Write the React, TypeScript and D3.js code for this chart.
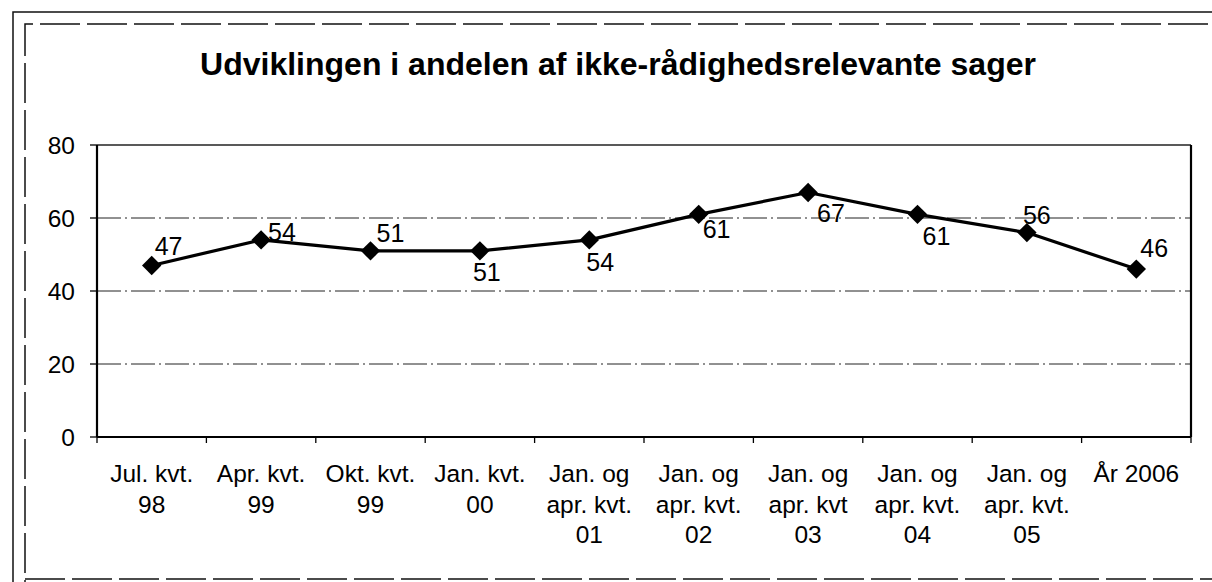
import React from "react";
import * as d3 from "d3";

// chart data
const title = "Udviklingen i andelen af ikke-rådighedsrelevante sager";
const categories = [
  ["Jul. kvt.", "98"],
  ["Apr. kvt.", "99"],
  ["Okt. kvt.", "99"],
  ["Jan. kvt.", "00"],
  ["Jan. og", "apr. kvt.", "01"],
  ["Jan. og", "apr. kvt.", "02"],
  ["Jan. og", "apr. kvt", "03"],
  ["Jan. og", "apr. kvt.", "04"],
  ["Jan. og", "apr. kvt.", "05"],
  ["År 2006"],
];
const values = [47, 54, 51, 51, 54, 61, 67, 61, 56, 46];
const yTicks = [0, 20, 40, 60, 80];

// where each value label sits relative to its point (as in the original)
const labelOffsets = [
  [3, -10], [7, 1], [6, -9], [-7, 30], [-3, 31],
  [4, 24], [9, 30], [5, 31], [-4, -9], [4, -12],
];

const W = 1212;
const H = 582;
const font = "'Liberation Sans', Arial, sans-serif";

export default function App() {
  const left = 97, right = 1191, top = 145, bottom = 437;

  const x = d3.scaleBand<number>()
    .domain(values.map((_, i) => i))
    .range([left, right]);
  const y = d3.scaleLinear().domain([0, 80]).range([bottom, top]);

  const cx = (i: number) => (x(i) as number) + x.bandwidth() / 2;

  const line = d3.line<number>()
    .x((_, i) => cx(i))
    .y((d) => y(d));

  const diamond = d3.symbol().type(d3.symbolDiamond2).size(240);

  const boundaries = d3.range(values.length + 1).map((i) => left + i * x.bandwidth());

  return (
    <svg width={W} height={H} style={{ position: "absolute", left: 0, top: 0, background: "#fff" }}>
      {/* frames */}
      <path d="M13,620 V12 H1240" fill="none" stroke="#111" strokeWidth={1.5} />
      <path d="M25,620 V24 H1240 M25,579 H1240" fill="none" stroke="#111"
        strokeWidth={1.5} strokeDasharray="40 7" />

      <text x={618} y={75} textAnchor="middle" fontFamily={font} fontWeight="bold"
        fontSize={32} fill="#000">{title}</text>

      {/* gridlines */}
      {yTicks.filter((t) => t > 0 && t < 80).map((t) => (
        <line key={t} x1={left} x2={right} y1={y(t)} y2={y(t)} stroke="#222"
          strokeWidth={1} strokeDasharray="24 4 2 4" />
      ))}
      <line x1={left} x2={right} y1={top} y2={top} stroke="#222" strokeWidth={1.4} />
      <line x1={right} x2={right} y1={top} y2={bottom} stroke="#000" strokeWidth={2.2} />

      {/* axes */}
      <line x1={left} x2={left} y1={top} y2={bottom} stroke="#000" strokeWidth={2.2} />
      <line x1={left} x2={right} y1={bottom} y2={bottom} stroke="#000" strokeWidth={2.2} />
      {yTicks.map((t) => (
        <g key={t}>
          <line x1={left - 7} x2={left} y1={y(t)} y2={y(t)} stroke="#000" strokeWidth={1.3} />
          <text x={left - 22} y={y(t) + 9} textAnchor="end" fontFamily={font} fontSize={24.5}
            fill="#000">{t}</text>
        </g>
      ))}
      {boundaries.map((b, i) => (
        <line key={i} x1={b} x2={b} y1={bottom} y2={bottom + 6} stroke="#000" strokeWidth={1.3} />
      ))}
      {categories.map((lines, i) => (
        <text key={i} x={cx(i)} y={482} textAnchor="middle" fontFamily={font} fontSize={24.5} fill="#000">
          {lines.map((s, j) => (
            <tspan key={j} x={cx(i)} y={482 + j * 30.5}>{s}</tspan>
          ))}
        </text>
      ))}

      {/* series */}
      <path d={line(values) || ""} fill="none" stroke="#000" strokeWidth={3.2} strokeLinejoin="round" />
      {values.map((v, i) => (
        <path key={i} d={diamond() || ""} transform={`translate(${cx(i)},${y(v)})`} fill="#000" />
      ))}
      {values.map((v, i) => (
        <text key={i} x={cx(i) + labelOffsets[i][0]} y={y(v) + labelOffsets[i][1]}
          fontFamily={font} fontSize={25} fill="#000">{v}</text>
      ))}
    </svg>
  );
}
